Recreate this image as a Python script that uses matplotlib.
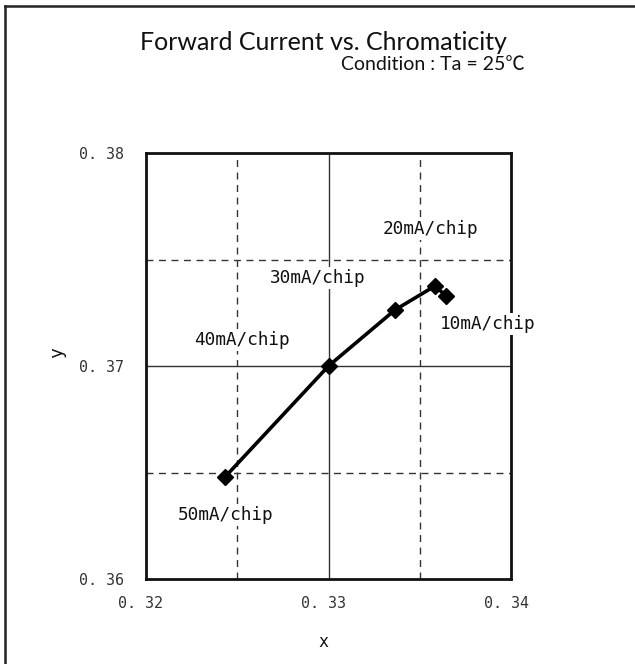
import matplotlib
matplotlib.use("Agg")
import matplotlib.pyplot as plt
import matplotlib.transforms as mtrans
from matplotlib.lines import Line2D

# Data
currents = ["10mA/chip", "20mA/chip", "30mA/chip", "40mA/chip", "50mA/chip"]
x_vals = [0.33644, 0.33584, 0.33364, 0.33000, 0.32433]
y_vals = [0.37329, 0.37376, 0.37263, 0.37000, 0.36479]
x_ticks = [0.32, 0.33, 0.34]
x_tick_labels = ["0. 32", "0. 33", "0. 34"]
y_ticks = [0.36, 0.37, 0.38]
y_tick_labels = ["0. 36", "0. 37", "0. 38"]
label_pos = {  # label text positions in data coords
    "10mA/chip": (0.33872, 0.37197),
    "20mA/chip": (0.33560, 0.37643),
    "30mA/chip": (0.32940, 0.37413),
    "40mA/chip": (0.32528, 0.37122),
    "50mA/chip": (0.32438, 0.36300),
}

W, H = 635, 664
fig = plt.figure(figsize=(W / 100, H / 100), dpi=100)
fig.patch.set_facecolor("white")

# outer frame (left and top visible)
fig.add_artist(Line2D([5 / W, 5 / W], [0, 1 - 6 / H], transform=fig.transFigure, color="#222222", lw=1.8))
fig.add_artist(Line2D([5 / W, 1], [1 - 6 / H, 1 - 6 / H], transform=fig.transFigure, color="#222222", lw=1.8))

ax = fig.add_axes([146 / W, (H - 579) / H, (511 - 146) / W, (579 - 153) / H])
ax.set_xlim(0.32, 0.34)
ax.set_ylim(0.36, 0.38)

# grid
for gx in [0.325, 0.335]:
    ax.axvline(gx, color="#333333", lw=1.0, ls=(0, (5, 4)), zorder=1)
for gy in [0.365, 0.375]:
    ax.axhline(gy, color="#333333", lw=1.0, ls=(0, (5, 4)), zorder=1)
ax.axvline(0.33, color="#333333", lw=1.0, zorder=1)
ax.axhline(0.37, color="#333333", lw=1.0, zorder=1)

ax.plot(x_vals, y_vals, color="black", lw=2.6, marker="D", markersize=8, zorder=3, solid_joinstyle="round")

mono = "DejaVu Sans Mono"
for name in currents:
    px, py = label_pos[name]
    ax.text(px, py, name, family=mono, fontsize=12.8, color="#111111", ha="center", va="center",
            bbox=dict(facecolor="white", edgecolor="none", pad=1.5), zorder=4, clip_on=False)

for s in ax.spines.values():
    s.set_linewidth(2.0)
    s.set_color("#111111")
    s.set_zorder(3.5)

ax.set_xticks(x_ticks)
ax.set_xticklabels(x_tick_labels, family=mono, fontsize=10.8, color="#333333")
ax.set_yticks(y_ticks)
ax.set_yticklabels(y_tick_labels, family=mono, fontsize=10.8, color="#333333")
ax.tick_params(length=0)
ax.tick_params(axis="y", pad=16)
ax.tick_params(axis="x", pad=12)
shift = mtrans.ScaledTranslation(-5 / 100, 0, fig.dpi_scale_trans)
for lab in ax.get_xticklabels():
    lab.set_transform(lab.get_transform() + shift)

ax.set_xlabel("x", family=mono, fontsize=12, color="#111111")
ax.xaxis.set_label_coords((323 - 146) / (511 - 146), -(642 - 579) / (579 - 153))
ax.xaxis.label.set_va("center")
ax.set_ylabel("y", family=mono, fontsize=13, color="#111111")
ax.yaxis.set_label_coords(-(146 - 57) / (511 - 146), (579 - 353) / (579 - 153))
ax.yaxis.label.set_va("center")

fig.text(323 / W, 1 - 42 / H, "Forward Current vs. Chromaticity", family="Lato", fontsize=18,
         ha="center", va="center", color="#111111")
fig.text(525 / W, 1 - 64 / H, "Condition : Ta = 25\u2103", family=["Lato", "Noto Sans CJK JP", "DejaVu Sans"],
         fontsize=14, ha="right", va="center", color="#111111")

fig.savefig("out.png", dpi=100, facecolor="white")
